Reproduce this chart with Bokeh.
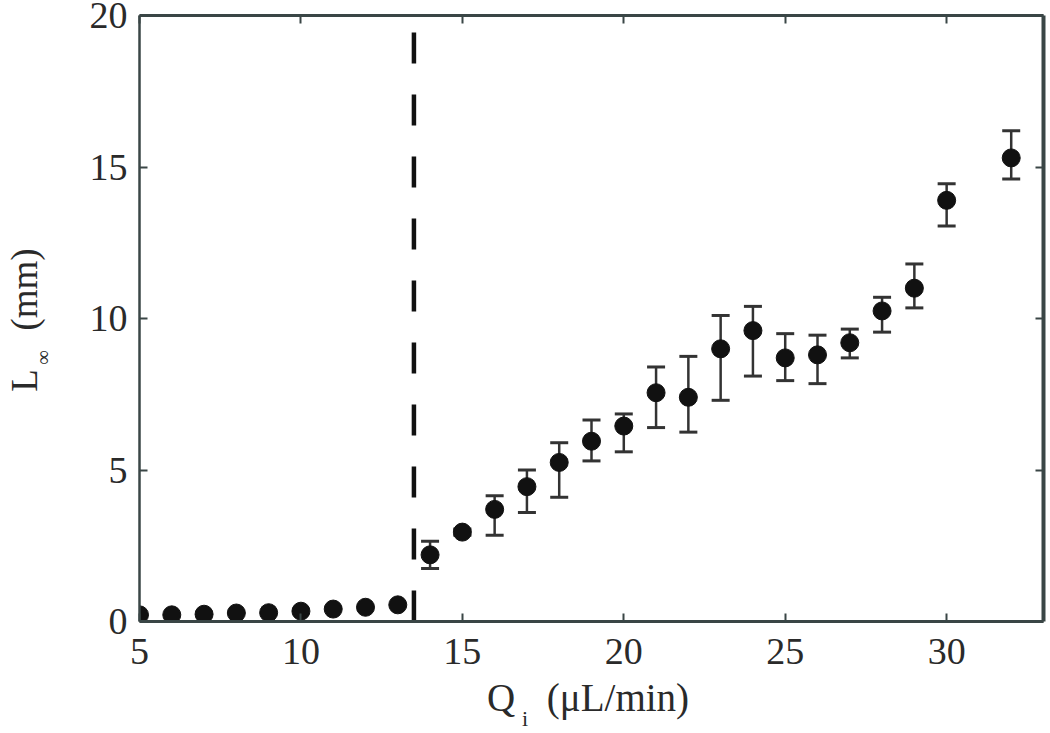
from bokeh.plotting import figure
from bokeh.models import Range1d, LinearAxis, FixedTicker, CustomJSTickFormatter
from bokeh.embed import file_html
from bokeh.resources import INLINE

# ---- data ----
q_low = [5, 6, 7, 8, 9, 10, 11, 12, 13]
L_low = [0.22, 0.22, 0.24, 0.28, 0.29, 0.34, 0.41, 0.47, 0.55]

q_high = [14, 15, 16, 17, 18, 19, 20, 21, 22, 23, 24, 25, 26, 27, 28, 29, 30, 32]
L_high = [2.2, 2.95, 3.7, 4.45, 5.25, 5.95, 6.45, 7.55, 7.4, 9.0, 9.6, 8.7, 8.8, 9.2, 10.25, 11.0, 13.9, 15.3]
L_upper = [2.65, 3.05, 4.15, 5.0, 5.9, 6.65, 6.85, 8.4, 8.75, 10.1, 10.4, 9.5, 9.45, 9.65, 10.7, 11.8, 14.45, 16.2]
L_lower = [1.75, 2.85, 2.85, 3.6, 4.1, 5.3, 5.6, 6.4, 6.25, 7.3, 8.1, 7.95, 7.85, 8.7, 9.55, 10.35, 13.05, 14.6]

q_threshold = 13.5
x_ticks = [5, 10, 15, 20, 25, 30]
y_ticks = [0, 5, 10, 15, 20]

FONT = "Liberation Serif"
AX = "#3a4646"
TXT = "#2a2a2a"
INK = "#111111"

W, H = 1050, 733
FW, FH = 905, 606  # frame size in px
p = figure(width=W, height=H, output_backend="svg", toolbar_location=None,
           x_range=Range1d(5, 33), y_range=Range1d(0, 20),
           min_border_left=138, min_border_right=7, min_border_top=15, min_border_bottom=112,
           x_axis_location=None, y_axis_location=None)
# pixel-based helper ranges, used only to place the pieces of the axis titles
p.extra_x_ranges = {"px": Range1d(0, FW)}
p.extra_y_ranges = {"px": Range1d(0, FH)}
p.grid.visible = False
p.outline_line_color = None
p.background_fill_color = "white"
p.border_fill_color = "white"

def style(ax, ticks, show_labels, width, standoff=0):
    ax.ticker = FixedTicker(ticks=ticks, minor_ticks=[])
    ax.axis_line_color = AX
    ax.axis_line_width = width
    ax.major_tick_line_color = AX
    ax.major_tick_line_width = 2
    ax.major_tick_in = 8
    ax.major_tick_out = 0
    ax.minor_tick_line_color = None
    if show_labels:
        ax.major_label_text_font = FONT
        ax.major_label_text_font_size = "38px"
        ax.major_label_text_color = TXT
        ax.major_label_standoff = standoff
    else:
        ax.formatter = CustomJSTickFormatter(code="return ''")
        ax.major_label_text_font_size = "0px"
        ax.major_label_standoff = 0

def text_axis(side, pieces, size, standoff, vertical=False):
    kw = {"x_range_name": "px"} if side == "below" else {"y_range_name": "px"}
    ax = LinearAxis(**kw)
    pos = list(pieces.keys())
    ax.ticker = FixedTicker(ticks=pos, minor_ticks=[])
    ax.major_label_overrides = pieces
    ax.axis_line_color = None
    ax.major_tick_line_color = None
    ax.minor_tick_line_color = None
    ax.major_tick_in = 0
    ax.major_tick_out = 0
    ax.major_label_text_font = FONT
    ax.major_label_text_font_size = size
    ax.major_label_text_color = TXT
    ax.major_label_standoff = standoff
    if vertical:
        ax.major_label_orientation = "vertical"
    p.add_layout(ax, side)
    return ax

xb = LinearAxis(); style(xb, x_ticks, True, 3, 17)
yl = LinearAxis(); style(yl, y_ticks, True, 2.5, 12)
xt = LinearAxis(); style(xt, x_ticks, False, 3)
yr = LinearAxis(); style(yr, y_ticks, False, 4)
p.add_layout(xb, "below")
p.add_layout(yl, "left")
p.add_layout(xt, "above")
p.add_layout(yr, "right")

# x title: Q_i (μL/min)
text_axis("below", {362: "Q", 479: "(\u03bcL/min)"}, "39px", 9)
text_axis("below", {386: "i"}, "22px", -16)
# y title: L_∞ (mm)
text_axis("left", {264: "\u221e"}, "20px", 33, vertical=True)
text_axis("left", {241: "L", 332: "(mm)"}, "37px", -16, vertical=True)

# threshold dashed line
p.segment(x0=[q_threshold], y0=[0], x1=[q_threshold], y1=[20],
          line_color=INK, line_width=4.5, line_dash="31 31")

# error bars
p.segment(x0=q_high, y0=L_lower, x1=q_high, y1=L_upper, line_color="#333333", line_width=2.5)
p.scatter(x=q_high, y=L_upper, marker="dash", size=18, line_color="#333333", line_width=3)
p.scatter(x=q_high, y=L_lower, marker="dash", size=18, line_color="#333333", line_width=3)

# markers
p.scatter(x=q_low, y=L_low, size=18, fill_color=INK, line_color=INK)
p.scatter(x=q_high, y=L_high, size=18, fill_color=INK, line_color=INK)

open("out.html", "w").write(file_html(p, INLINE))
